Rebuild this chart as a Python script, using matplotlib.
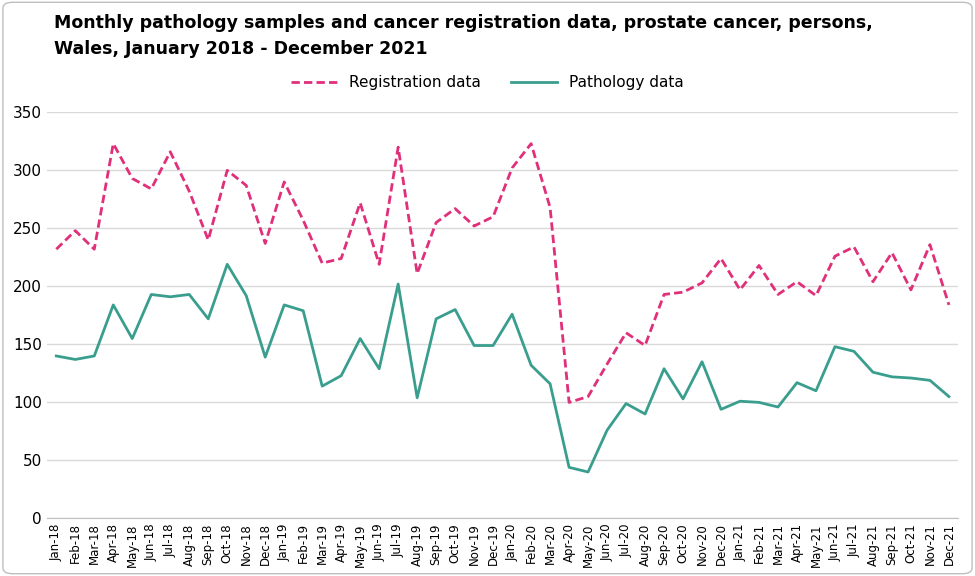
import matplotlib
matplotlib.use("Agg")
import matplotlib.pyplot as plt
from matplotlib.patches import FancyBboxPatch

months = [f"{m}-{y}" for y in ["18","19","20","21"] for m in
          ["Jan","Feb","Mar","Apr","May","Jun","Jul","Aug","Sep","Oct","Nov","Dec"]]
registration = [232,248,232,323,293,284,316,282,240,300,287,237,
                290,257,220,224,272,219,320,211,255,267,252,260,
                302,323,268,100,105,133,160,149,193,195,203,224,
                197,218,193,204,192,226,234,204,229,197,236,184]
pathology = [140,137,140,184,155,193,191,193,172,219,192,139,
             184,179,114,123,155,129,202,104,172,180,149,149,
             176,132,116,44,40,76,99,90,129,103,135,94,
             101,100,96,117,110,148,144,126,122,121,119,105]

fig = plt.figure(figsize=(9.75,5.76), dpi=100)
fig.patches.append(FancyBboxPatch((0.003,0.004),0.994,0.992,boxstyle="round,pad=0,rounding_size=0.01",
                                  transform=fig.transFigure, fill=False, edgecolor="#BFBFBF", lw=1))
ax = fig.add_axes([0.048,0.1,0.935,0.705])
x = range(len(months))
ax.plot(x, registration, color="#E0307A", lw=2, ls=(0,(3,1.5)), label="Registration data")
ax.plot(x, pathology, color="#3A9E8E", lw=2, label="Pathology data")
ax.set_ylim(0,350)
ax.set_yticks(range(0,351,50))
ax.set_xlim(-0.5,len(months)-0.5)
ax.set_xticks(list(x))
ax.set_xticklabels(months, rotation=90, fontsize=8.5)
ax.tick_params(axis='y', labelsize=11, length=0)
ax.tick_params(axis='x', length=0)
ax.grid(axis='y', color="#D9D9D9", lw=1)
ax.set_axisbelow(True)
for s in ["top","right","left"]:
    ax.spines[s].set_visible(False)
ax.spines["bottom"].set_color("#BFBFBF")
fig.text(0.055,0.975,"Monthly pathology samples and cancer registration data, prostate cancer, persons,\nWales, January 2018 - December 2021",
         fontsize=12.5, fontweight="bold", va="top", ha="left", linespacing=1.55)
fig.legend(loc="center", bbox_to_anchor=(0.5,0.856), ncol=2, frameon=False, fontsize=11,
           handlelength=3, columnspacing=2)
fig.savefig("out.png", dpi=100)
